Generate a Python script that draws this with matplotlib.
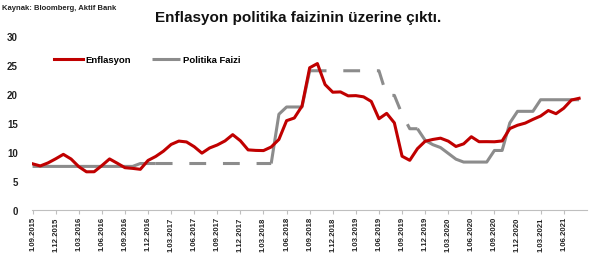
import numpy as np
import matplotlib
matplotlib.use("Agg")
import matplotlib.pyplot as plt

# aylik veriler: 09.2015 - 08.2021
enflasyon = [7.95, 7.58, 8.10, 8.81,
             9.58, 8.78, 7.46, 6.57, 6.58, 7.64, 8.79, 8.05, 7.28, 7.16, 7.00, 8.53,
             9.22, 10.13, 11.29, 11.87, 11.72, 10.90, 9.79, 10.68, 11.20, 11.90, 12.98, 11.92,
             10.35, 10.26, 10.23, 10.85, 12.15, 15.39, 15.85, 17.90, 24.52, 25.24, 21.62, 20.30,
             20.35, 19.67, 19.71, 19.50, 18.71, 15.72, 16.65, 15.01, 9.26, 8.55, 10.56, 11.84,
             12.15, 12.37, 11.86, 10.94, 11.39, 12.62, 11.76, 11.77, 11.75, 11.89, 14.03, 14.60,
             14.97, 15.61, 16.19, 17.14, 16.59, 17.53, 18.95, 19.25]
politika = [7.5, 7.5, 7.5, 7.5,
            7.5, 7.5, 7.5, 7.5, 7.5, 7.5, 7.5, 7.5, 7.5, 7.5, 8.0, 8.0,
            8.0, 8.0, 8.0, 8.0, 8.0, 8.0, 8.0, 8.0, 8.0, 8.0, 8.0, 8.0,
            8.0, 8.0, 8.0, 8.0, 16.5, 17.75, 17.75, 17.75, 24.0, 24.0, 24.0, 24.0,
            24.0, 24.0, 24.0, 24.0, 24.0, 24.0, 19.75, 19.75, 16.5, 14.0, 14.0, 12.0,
            11.25, 10.75, 9.75, 8.75, 8.25, 8.25, 8.25, 8.25, 10.25, 10.25, 15.0, 17.0,
            17.0, 17.0, 19.0, 19.0, 19.0, 19.0, 19.0, 19.0]
# kesikli cizilen donemler (indeks araliklari)
kesikli = [(16, 31), (36, 50)]

aylar = ["09", "12", "03", "06"]
tick_labels = []
for i in range(24):
    ay = aylar[i % 4]
    yil = 2015 + (i + 2) // 4
    tick_labels.append(f"1.{ay}.{yil}")

plt.rcParams['font.family'] = ['Liberation Sans', 'DejaVu Sans']

fig = plt.figure(figsize=(6, 2.55), dpi=100)
ax = fig.add_axes([0.053, 0.173, 0.925, 0.682])

x = np.arange(len(enflasyon))
pol = np.array(politika, dtype=float)

solid = pol.copy()
dash = np.full(len(pol), np.nan)
for a, b in kesikli:
    dash[a:b + 1] = pol[a:b + 1]
    solid[a + 1:b] = np.nan

gray = '#8c8c8c'
red = '#c00000'
ax.plot(x, solid, color=gray, lw=2.2, solid_capstyle='butt', label='Politika Faizi')
ax.plot(x, dash, color=gray, lw=2.2, dashes=(5.5, 5.5), dash_capstyle='butt')
ax.plot(x, enflasyon, color=red, lw=2.2, label='Enflasyon')

ax.set_xlim(-0.1, 72)
ax.set_ylim(0, 30)
ax.set_yticks([0, 5, 10, 15, 20, 25, 30])
ax.set_xticks(np.arange(0, 72, 3))
ax.set_xticklabels(tick_labels, rotation=90, fontsize=5.6, fontweight='bold', color='#222222')
for t in ax.get_yticklabels():
    t.set_fontsize(7)
    t.set_fontweight('bold')
    t.set_color('#222222')

for s in ['top', 'right', 'left']:
    ax.spines[s].set_visible(False)
ax.spines['bottom'].set_color('#bfbfbf')
ax.tick_params(axis='y', length=0, pad=10)
ax.tick_params(axis='x', length=3, color='#bfbfbf', pad=1.5)

h, l = ax.get_legend_handles_labels()
ax.legend([h[1], h[0]], [l[1], l[0]], loc='upper left', bbox_to_anchor=(0.025, 0.94),
          ncol=2, frameon=False, prop={'weight': 'bold', 'size': 6.8},
          handlelength=3.0, handletextpad=0.3, columnspacing=2.2)

fig.text(0.004, 0.965, "Kaynak: Bloomberg, Aktif Bank", fontsize=5.5, fontweight='bold',
         color='#222222', va='center')
fig.text(0.497, 0.93, "Enflasyon politika faizinin üzerine çıktı.", fontsize=11,
         fontweight='bold', color='#111111', ha='center', va='center')

fig.savefig("out.png", dpi=100)
